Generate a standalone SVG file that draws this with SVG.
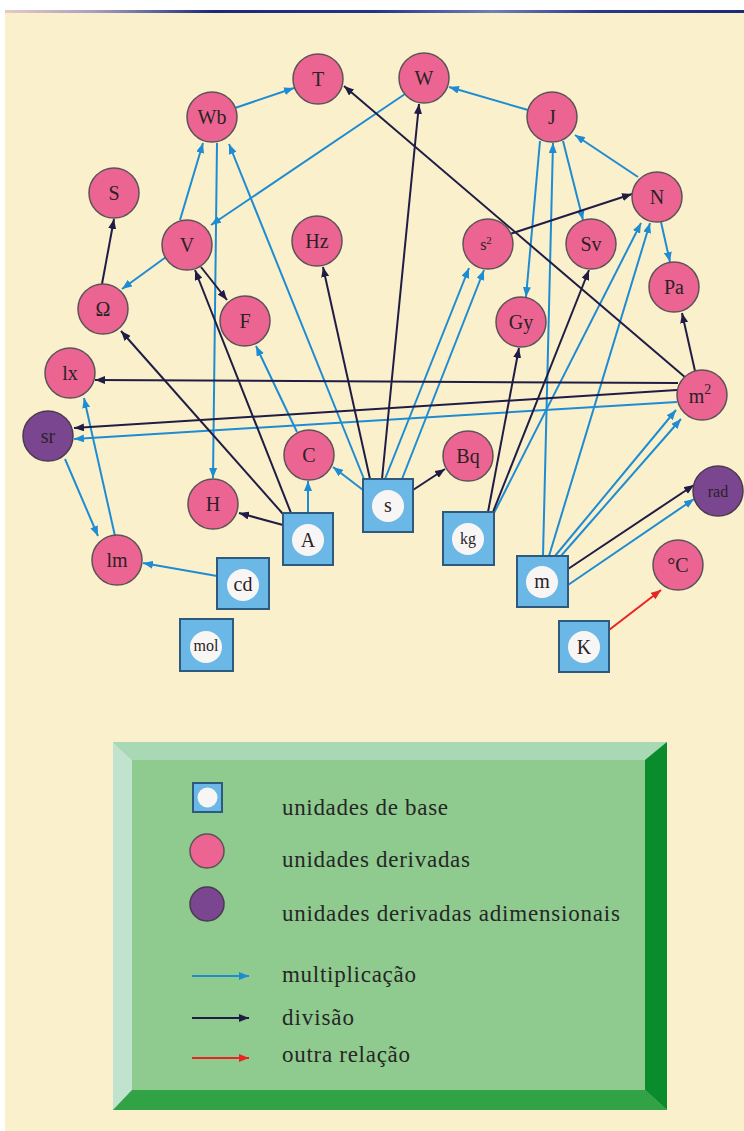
<svg xmlns="http://www.w3.org/2000/svg" width="744" height="1131" viewBox="0 0 744 1131">
<defs>
<linearGradient id="topline" x1="0" x2="1" y1="0" y2="0">
<stop offset="0" stop-color="#e8c8c8"/>
<stop offset="0.12" stop-color="#a8a0c0"/>
<stop offset="0.28" stop-color="#1c2a7a"/>
<stop offset="0.5" stop-color="#24348a"/>
<stop offset="0.66" stop-color="#7080b8"/>
<stop offset="0.8" stop-color="#2a3a8a"/>
<stop offset="1" stop-color="#1c2a7a"/>
</linearGradient>
<marker id="ab" markerUnits="userSpaceOnUse" markerWidth="10" markerHeight="8" refX="10" refY="4" orient="auto"><path d="M0,0 L10,4 L0,8 z" fill="#1e8cd2"/></marker>
<marker id="ad" markerUnits="userSpaceOnUse" markerWidth="10" markerHeight="8" refX="10" refY="4" orient="auto"><path d="M0,0 L10,4 L0,8 z" fill="#1f1d45"/></marker>
<marker id="ar" markerUnits="userSpaceOnUse" markerWidth="10" markerHeight="8" refX="10" refY="4" orient="auto"><path d="M0,0 L10,4 L0,8 z" fill="#e82424"/></marker>
</defs>
<style>
.bg{fill:#fbf0cc}
.d circle{fill:#ec6592;stroke:#5b5357;stroke-width:1.5}
.p circle{fill:#7b4690;stroke:#4a3a50;stroke-width:1.5}
.b rect{fill:#6bb8e6;stroke:#2f5a80;stroke-width:2}
.b circle{fill:#f8f6f4}
text{font-family:"Liberation Serif","Times New Roman",serif;fill:#2a2226;text-anchor:middle;font-size:20px}
.sm{font-size:16px}
.mul{stroke:#1e8cd2;stroke-width:2;fill:none;marker-end:url(#ab)}
.div{stroke:#1f1d45;stroke-width:2;fill:none;marker-end:url(#ad)}
.oth{stroke:#e82424;stroke-width:2;fill:none;marker-end:url(#ar)}
.leg text{text-anchor:start;font-size:23px;fill:#262626}
</style>
<rect x="0" y="0" width="744" height="1131" fill="#ffffff"/>
<rect class="bg" x="5" y="12" width="739" height="1119"/>
<rect x="5" y="10" width="739" height="3" fill="url(#topline)"/>

<g id="connectors">
<path class="mul" d="M235,108 L294,88"/>
<path class="mul" d="M528,110 L449,87"/>
<path class="mul" d="M405,94 L211,225"/>
<path class="mul" d="M180,220 L203,143"/>
<path class="mul" d="M166,257 L122,289"/>
<path class="mul" d="M217,143 L213,478"/>
<path class="mul" d="M364,479 L229,144"/>
<path class="mul" d="M308,513 L308,481"/>
<path class="mul" d="M297,432 L256,346"/>
<path class="mul" d="M363,490 L333,467"/>
<path class="mul" d="M385,479 L469,268"/>
<path class="mul" d="M402,479 L484,270"/>
<path class="mul" d="M540,141 L526,297"/>
<path class="mul" d="M543,556 L553,143"/>
<path class="mul" d="M563,141 L583,220"/>
<path class="mul" d="M638,177 L575,135"/>
<path class="mul" d="M661,222 L670,262"/>
<path class="mul" d="M494,513 L641,223"/>
<path class="mul" d="M549,556 L650,223"/>
<path class="mul" d="M555,556 L676,410"/>
<path class="mul" d="M560,557 L681,419"/>
<path class="mul" d="M568,585 L694,499"/>
<path class="mul" d="M677,402 L74,439"/>
<path class="mul" d="M65,459 L98,536"/>
<path class="mul" d="M115,536 L84,398"/>
<path class="mul" d="M217,576 L143,563"/>
<path class="div" d="M686,378 L344,86"/>
<path class="div" d="M382,479 L419,104"/>
<path class="div" d="M370,479 L323,267"/>
<path class="div" d="M283,514 L121,331"/>
<path class="div" d="M291,513 L195,270"/>
<path class="div" d="M201,267 L227,300"/>
<path class="div" d="M102,284 L114,219"/>
<path class="div" d="M283,525 L239,513"/>
<path class="div" d="M413,490 L445,469"/>
<path class="div" d="M510,234 L632,194"/>
<path class="div" d="M488,512 L519,348"/>
<path class="div" d="M493,512 L589,270"/>
<path class="div" d="M695,371 L682,313"/>
<path class="div" d="M678,383 L95,380"/>
<path class="div" d="M677,390 L74,428"/>
<path class="div" d="M568,569 L694,485"/>
<path class="oth" d="M609,630 L661,590"/>
</g>

<g id="node-T" class="d"><circle cx="318" cy="79" r="25"/><text x="318" y="86">T</text></g>
<g id="node-W" class="d"><circle cx="424" cy="78" r="25"/><text x="424" y="85">W</text></g>
<g id="node-Wb" class="d"><circle cx="212" cy="117" r="25"/><text x="212" y="124">Wb</text></g>
<g id="node-J" class="d"><circle cx="552" cy="117" r="25"/><text x="552" y="124">J</text></g>
<g id="node-S" class="d"><circle cx="114" cy="193" r="25"/><text x="114" y="200">S</text></g>
<g id="node-N" class="d"><circle cx="657" cy="197" r="25"/><text x="657" y="204">N</text></g>
<g id="node-V" class="d"><circle cx="187" cy="245" r="25"/><text x="187" y="252">V</text></g>
<g id="node-Hz" class="d"><circle cx="317" cy="241" r="25"/><text x="317" y="248">Hz</text></g>
<g id="node-s2" class="d"><circle cx="488" cy="244" r="25"/><text x="486" y="250" class="sm">s<tspan font-size="11" dy="-6">2</tspan></text></g>
<g id="node-Sv" class="d"><circle cx="591" cy="244" r="25"/><text x="591" y="251">Sv</text></g>
<g id="node-Pa" class="d"><circle cx="674" cy="287" r="25"/><text x="674" y="294">Pa</text></g>
<g id="node-Omega" class="d"><circle cx="103" cy="309" r="25"/><text x="103" y="316">Ω</text></g>
<g id="node-F" class="d"><circle cx="245" cy="321" r="25"/><text x="245" y="328">F</text></g>
<g id="node-Gy" class="d"><circle cx="521" cy="322" r="25"/><text x="521" y="329">Gy</text></g>
<g id="node-lx" class="d"><circle cx="70" cy="373" r="25"/><text x="70" y="380">lx</text></g>
<g id="node-m2" class="d"><circle cx="702" cy="395" r="25"/><text x="700" y="403">m<tspan font-size="14" dy="-9">2</tspan></text></g>
<g id="node-sr" class="p"><circle cx="48" cy="436" r="25"/><text x="48" y="443">sr</text></g>
<g id="node-C" class="d"><circle cx="309" cy="455" r="25"/><text x="309" y="462">C</text></g>
<g id="node-Bq" class="d"><circle cx="468" cy="456" r="25"/><text x="468" y="463">Bq</text></g>
<g id="node-H" class="d"><circle cx="213" cy="504" r="25"/><text x="213" y="511">H</text></g>
<g id="node-rad" class="p"><circle cx="718" cy="491" r="25"/><text x="718" y="497" class="sm">rad</text></g>
<g id="node-lm" class="d"><circle cx="117" cy="560" r="25"/><text x="117" y="567">lm</text></g>
<g id="node-degC" class="d"><circle cx="678" cy="565" r="25"/><text x="678" y="572">°C</text></g>

<g id="node-A" class="b"><rect x="283" y="513" width="50" height="52"/><circle cx="308" cy="540" r="16"/><text x="308" y="547">A</text></g>
<g id="node-s" class="b"><rect x="363" y="479" width="50" height="53"/><circle cx="388" cy="506" r="16"/><text x="388" y="512">s</text></g>
<g id="node-kg" class="b"><rect x="443" y="512" width="51" height="53"/><circle cx="468" cy="539" r="16"/><text x="468" y="544" class="sm">kg</text></g>
<g id="node-m" class="b"><rect x="517" y="556" width="51" height="51"/><circle cx="542" cy="582" r="16"/><text x="542" y="588">m</text></g>
<g id="node-K" class="b"><rect x="559" y="621" width="50" height="51"/><circle cx="584" cy="647" r="16"/><text x="584" y="654">K</text></g>
<g id="node-cd" class="b"><rect x="217" y="558" width="52" height="51"/><circle cx="243" cy="585" r="16"/><text x="243" y="591">cd</text></g>
<g id="node-mol" class="b"><rect x="180" y="619" width="53" height="52"/><circle cx="206" cy="647" r="16"/><text x="206" y="651" class="sm">mol</text></g>

<g id="legend" class="leg">
<rect x="113" y="742" width="554" height="368" fill="#8fcb8f"/>
<polygon points="113,742 667,742 645,760 132,760" fill="#a8d8b4"/>
<polygon points="113,742 132,760 132,1090 113,1110" fill="#c2e2d0"/>
<polygon points="667,742 667,1110 645,1090 645,760" fill="#0a8c2c"/>
<polygon points="113,1110 667,1110 645,1090 132,1090" fill="#32a246"/>
<g class="b"><rect x="193" y="783" width="29" height="29" stroke-width="1.5"/><circle cx="207.5" cy="797.5" r="10"/></g>
<g class="d"><circle cx="207" cy="851" r="17"/></g>
<g class="p"><circle cx="207" cy="904" r="17"/></g>
<path class="mul" d="M192,976 L249,976"/>
<path class="div" d="M192,1018 L249,1018"/>
<path class="oth" d="M192,1058 L249,1058"/>
<text x="282" y="815" textLength="166" lengthAdjust="spacing">unidades de base</text>
<text x="282" y="867" textLength="188" lengthAdjust="spacing">unidades derivadas</text>
<text x="282" y="921" textLength="338" lengthAdjust="spacing">unidades derivadas  adimensionais</text>
<text x="282" y="982" textLength="134" lengthAdjust="spacing">multiplicação</text>
<text x="282" y="1025" textLength="72" lengthAdjust="spacing">divisão</text>
<text x="282" y="1062" textLength="128" lengthAdjust="spacing">outra relação</text>
</g>
</svg>
